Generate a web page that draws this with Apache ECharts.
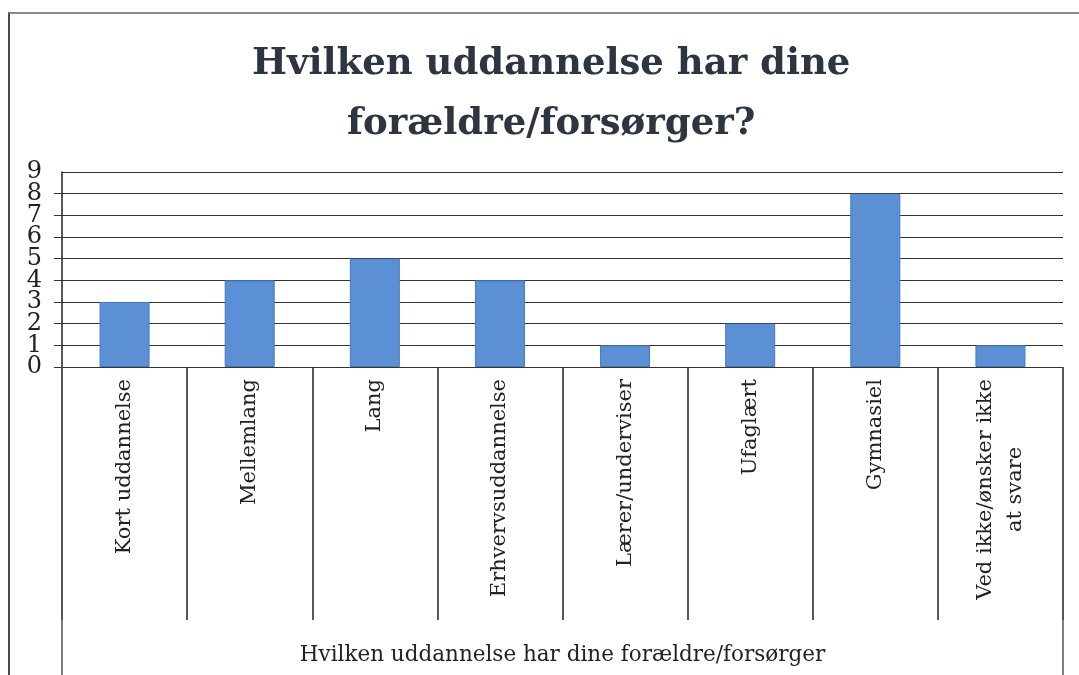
<!DOCTYPE html>
<html>
<head>
<meta charset="utf-8">
<script src="https://cdn.jsdelivr.net/npm/echarts@6/dist/echarts.min.js"></script>
<style>
html,body{margin:0;padding:0;background:#fff;}
#frame{position:absolute;left:8px;top:12px;width:1071px;height:663px;border-left:2px solid #4a4a4a;border-top:2px solid #8a8a8a;box-sizing:border-box;}
#chart{position:absolute;left:0;top:0;width:1079px;height:675px;}
</style>
</head>
<body>
<div id="frame"></div>
<div id="chart"></div>
<script>
const titleLines = ['Hvilken uddannelse har dine','forældre/forsørger?'];
const categories = ['Kort uddannelse','Mellemlang','Lang','Erhvervsuddannelse','Lærer/underviser','Ufaglært','Gymnasiel','Ved ikke/ønsker ikke\nat svare'];
const values = [3,4,5,4,1,2,8,1];
const outerCategory = ['Hvilken uddannelse har dine forældre/forsørger'];
const yTicksEven = [0,2,4,6,8];
const yTicksOdd = [1,3,5,7,9];

const serif = 'DejaVu Serif';
const yLabelRich = {d:{fontFamily:serif,fontSize:24,lineHeight:16,color:'#222'}};
const chart = echarts.init(document.getElementById('chart'), null, {renderer:'canvas'});
chart.setOption({
  animation:false,
  backgroundColor:'transparent',
  title:{
    text:titleLines.map(function(s){return '{t|'+s+'}';}).join('\n'),
    left:247,
    top:29,
    textStyle:{
      rich:{t:{fontFamily:serif,fontWeight:'bold',fontSize:37,color:'#2c3540',lineHeight:60,align:'center'}}
    }
  },
  grid:{left:62,right:16,top:172,bottom:308,containLabel:false},
  xAxis:[{
    type:'category',
    data:categories,
    position:'bottom',
    axisLine:{show:true,lineStyle:{color:'#333',width:1}},
    axisTick:{show:true,alignWithLabel:false,interval:0,length:253,lineStyle:{color:'#222',width:1.5}},
    axisLabel:{
      interval:0,rotate:90,margin:12,color:'#222',
      formatter:function(v){return v.split('\n').map(function(s){return '{c|'+s+'}';}).join('\n');},
      rich:{c:{fontFamily:serif,fontSize:21,color:'#222',lineHeight:30,align:'center'}}
    }
  },{
    type:'category',
    data:outerCategory,
    position:'bottom',
    axisLine:{show:false},
    axisTick:{show:true,length:308,lineStyle:{color:'#555',width:1.5}},
    axisLabel:{margin:277,fontFamily:serif,fontSize:21.5,color:'#222'}
  }],
  yAxis:[{
    type:'value',
    position:'left',
    min:0,max:9,interval:1,
    axisLine:{show:true,lineStyle:{color:'#222',width:1.5}},
    axisTick:{show:true,length:8,lineStyle:{color:'#333'}},
    axisLabel:{margin:20,color:'#222',showMinLabel:true,showMaxLabel:false,hideOverlap:false,
      formatter:function(v){return yTicksEven.indexOf(v)>=0?'{d|'+v+'}':'';},
      rich:yLabelRich},
    splitLine:{show:true,lineStyle:{color:'#333',width:1.2}}
  },{
    type:'value',
    position:'left',
    offset:0,
    min:0,max:9,interval:1,
    axisLine:{show:false},
    axisTick:{show:false},
    splitLine:{show:false},
    axisLabel:{margin:20,color:'#222',showMinLabel:false,showMaxLabel:true,hideOverlap:false,
      formatter:function(v){return yTicksOdd.indexOf(v)>=0?'{d|'+v+'}':'';},
      rich:yLabelRich}
  }],
  series:[{
    type:'bar',
    data:values,
    xAxisIndex:0,
    yAxisIndex:0,
    barWidth:50,
    itemStyle:{color:'#5b90d4',borderColor:'#4479c2',borderWidth:1}
  }]
});
</script>
</body>
</html>
